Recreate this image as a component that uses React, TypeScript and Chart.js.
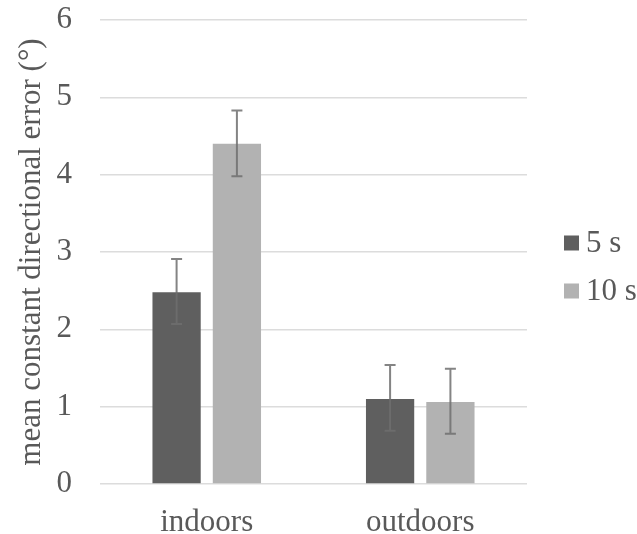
import React, { useEffect, useRef } from "react";
import { Chart, registerables } from "chart.js";

Chart.register(...registerables);

const categories = ["indoors", "outdoors"];
const seriesLabels = ["5 s", "10 s"];
const values5s = [2.48, 1.1];
const values10s = [4.4, 1.06];
const errLow5s = [2.07, 0.69];
const errHigh5s = [2.91, 1.54];
const errLow10s = [3.98, 0.65];
const errHigh10s = [4.83, 1.49];
const yTicks = [0, 1, 2, 3, 4, 5, 6];

const FONT = "'Liberation Serif', 'Times New Roman', serif";
const TEXT = "#595959";
const FS = 31;

const errorBars = {
  id: "errorBars",
  afterDatasetsDraw(chart: any) {
    const ctx = chart.ctx;
    const yScale = chart.scales.y;
    const lows = [errLow5s, errLow10s];
    const highs = [errHigh5s, errHigh10s];
    ctx.save();
    ctx.strokeStyle = "rgba(110,110,110,0.85)";
    ctx.lineWidth = 2;
    chart.data.datasets.forEach((_: any, i: number) => {
      const meta = chart.getDatasetMeta(i);
      meta.data.forEach((bar: any, j: number) => {
        const x = bar.x;
        const yHi = yScale.getPixelForValue(highs[i][j]);
        const yLo = yScale.getPixelForValue(lows[i][j]);
        ctx.beginPath();
        ctx.moveTo(x, yHi);
        ctx.lineTo(x, yLo);
        ctx.moveTo(x - 5.5, yHi);
        ctx.lineTo(x + 5.5, yHi);
        ctx.moveTo(x - 5.5, yLo);
        ctx.lineTo(x + 5.5, yLo);
        ctx.stroke();
      });
    });
    ctx.restore();
  },
};

const sideLegend = {
  id: "sideLegend",
  afterDraw(chart: any) {
    const ctx = chart.ctx;
    const x0 = chart.chartArea.right + 37;
    const cy = chart.height / 2;
    const step = 48;
    ctx.save();
    ctx.font = `${FS}px ${FONT}`;
    ctx.textBaseline = "middle";
    ctx.textAlign = "left";
    chart.data.datasets.forEach((ds: any, i: number) => {
      const y = cy + (i - (chart.data.datasets.length - 1) / 2) * step;
      ctx.fillStyle = ds.backgroundColor;
      ctx.fillRect(x0, y - 7.5, 15, 15);
      ctx.fillStyle = TEXT;
      ctx.fillText(ds.label, x0 + 22, y + 1);
    });
    ctx.restore();
  },
};

export default function App() {
  const ref = useRef<HTMLCanvasElement>(null);
  useEffect(() => {
    if (!ref.current) return;
    const chart = new Chart(ref.current, {
      type: "bar",
      data: {
        labels: categories,
        datasets: [
          {
            label: seriesLabels[0],
            data: values5s,
            backgroundColor: "#5f5f5f",
            categoryPercentage: 0.565,
            barPercentage: 0.8,
          },
          {
            label: seriesLabels[1],
            data: values10s,
            backgroundColor: "#b2b2b2",
            categoryPercentage: 0.565,
            barPercentage: 0.8,
          },
        ],
      },
      options: {
        animation: false,
        responsive: true,
        maintainAspectRatio: false,
        layout: { padding: { top: 0, right: 110, bottom: 0, left: 0 } },
        plugins: {
          legend: { display: false },
          tooltip: { enabled: false },
        },
        scales: {
          x: {
            grid: { display: false },
            border: { display: false },
            ticks: {
              color: TEXT,
              font: { family: FONT, size: FS },
              padding: 12,
            },
            afterFit: (axis: any) => {
              axis.height = 50;
            },
          },
          y: {
            min: 0,
            max: 6,
            afterBuildTicks: (axis: any) => {
              axis.ticks = yTicks.map((v) => ({ value: v }));
            },
            grid: { color: "#dcdcdc", lineWidth: 1.6, drawTicks: false },
            border: { display: false },
            ticks: {
              color: TEXT,
              font: { family: FONT, size: FS },
              padding: 28,
            },
            title: {
              display: true,
              text: "mean constant directional error (°)",
              color: TEXT,
              font: { family: FONT, size: FS },
              padding: { top: 13, bottom: 0 },
            },
            afterFit: (axis: any) => {
              axis.width = 100;
              axis.paddingTop = 20;
              axis.paddingBottom = 10;
            },
          },
        },
      },
      plugins: [errorBars, sideLegend],
    });
    return () => chart.destroy();
  }, []);
  return (
    <div style={{ position: "fixed", left: 0, top: 0, width: 637, height: 534, background: "#fff" }}>
      <canvas ref={ref} />
    </div>
  );
}
